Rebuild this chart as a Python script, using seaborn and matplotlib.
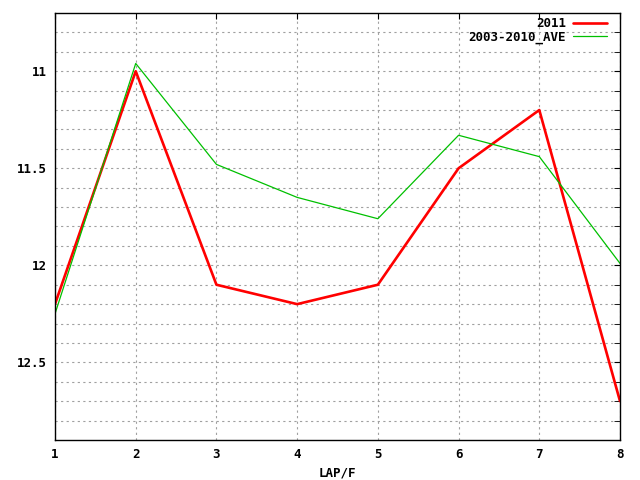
import numpy as np
import pandas as pd
import matplotlib
matplotlib.use('Agg')
import matplotlib.pyplot as plt
import seaborn as sns

laps = [1, 2, 3, 4, 5, 6, 7, 8]
lap_2011 = [12.2, 11.0, 12.1, 12.2, 12.1, 11.5, 11.2, 12.7]
lap_ave = [12.25, 10.96, 11.48, 11.65, 11.76, 11.33, 11.44, 11.99]
y_ticks = [11, 11.5, 12, 12.5]
y_labels = ['11', '11.5', '12', '12.5']

df = pd.DataFrame({'lap': laps * 2,
                   'time': lap_2011 + lap_ave,
                   'series': ['2011'] * 8 + ['2003-2010_AVE'] * 8})

sns.set_style('white')
plt.rcParams['font.family'] = ['DejaVu Sans Mono', 'DejaVu Sans']
plt.rcParams['font.weight'] = 'bold'
plt.rcParams['text.color'] = 'black'
plt.rcParams['xtick.color'] = 'black'
plt.rcParams['ytick.color'] = 'black'
plt.rcParams['axes.labelcolor'] = 'black'

fig = plt.figure(figsize=(6.4, 4.8), dpi=100)
ax = fig.add_axes([55 / 640, 40 / 480, 565 / 640, 427 / 480])

sns.lineplot(data=df, x='lap', y='time', hue='series', ax=ax,
             palette={'2011': '#ff0000', '2003-2010_AVE': '#00c000'},
             size='series', sizes={'2011': 1.9, '2003-2010_AVE': 0.9},
             legend=True)

ax.set_xlim(1, 8)
ax.set_ylim(12.9, 10.7)
ax.set_xticks(laps)
ax.set_yticks(y_ticks)
ax.set_yticklabels(y_labels)
ax.set_yticks(np.arange(10.8, 12.85, 0.1), minor=True)
ax.grid(True, which='both', color='#a0a0a0', linestyle=(0, (2, 3)), linewidth=0.8)
ax.tick_params(axis='both', which='both', direction='in', length=4, labelsize=9,
               right=True, top=True, color='black', labelcolor='black')
ax.tick_params(axis='both', which='major', pad=6)
for s in ax.spines.values():
    s.set_color('black')
    s.set_linewidth(1)

ax.set_xlabel('LAP/F', fontsize=9, fontweight='bold', color='black')
ax.set_ylabel('')

handles, labels = ax.get_legend_handles_labels()
ax.legend(handles, labels, loc='upper right', bbox_to_anchor=(0.977, 0.99),
          markerfirst=False, frameon=False, fontsize=9, handlelength=2.7,
          borderaxespad=0, borderpad=0, labelspacing=0.0, handletextpad=0.6)

fig.savefig('out.png', dpi=100)
